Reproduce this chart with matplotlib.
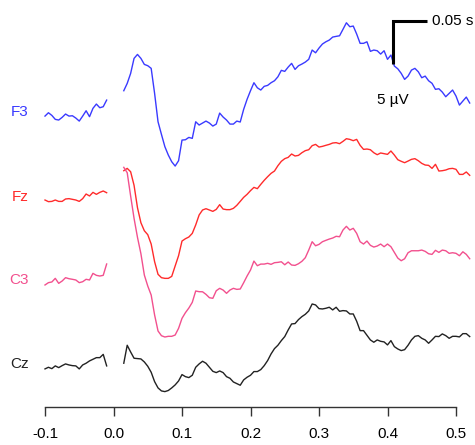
import numpy as np
import matplotlib
matplotlib.use("Agg")
import matplotlib.pyplot as plt

plt.rcParams['font.family'] = ['Liberation Sans', 'DejaVu Sans']
plt.rcParams['axes.unicode_minus'] = False

# time grids (s): pre-stimulus and post-stimulus segments
t_pre = np.linspace(-0.100, -0.010, 19)
t_post = np.linspace(0.015, 0.520, 102)

channels = ["F3", "Fz", "C3", "Cz"]
colors = ["#3a3aff", "#ff2b2b", "#f2508e", "#222222"]

# amplitudes in uV
f3_pre = [-0.12, 0.27, -0.04, -0.50, -0.58, -0.27, 0.12, -0.12, -0.08, -0.35,
          -0.70, -0.12, 0.50, -0.19, 0.78, 1.28, 0.85, 0.97, 1.74]
f3_post = [2.83, 3.68, 4.84, 6.59, 7.05, 6.59, 5.89, 5.74, 5.43, 2.52,
           -0.78, -2.25, -3.68, -4.65, -5.43, -5.93, -5.31, -2.91, -2.87, -2.60,
           -2.71, -0.78, -1.16, -0.93, -0.70, -0.93, -1.28, -1.05, 0.23, -0.23,
           -0.58, -1.05, -1.05, -0.70, -0.81, 0.66, 1.83, 2.83, 3.76, 3.17,
           2.91, 3.34, 3.45, 3.76, 3.99, 4.45, 5.20, 5.08, 5.58, 6.01,
           5.31, 5.73, 5.93, 6.16, 6.48, 7.56, 7.24, 7.79, 8.26, 8.52,
           8.72, 9.07, 9.15, 9.22, 9.97, 10.73, 10.27, 10.35, 9.42, 8.34,
           8.34, 8.52, 7.41, 7.56, 7.48, 7.09, 7.48, 6.48, 6.98, 5.70,
           5.38, 4.85, 4.15, 4.53, 5.23, 5.43, 5.03, 4.34, 4.53, 3.99,
           3.69, 2.99, 3.06, 2.67, 2.13, 2.52, 2.91, 2.21, 1.16, 1.63,
           2.09, 1.40]

fz_pre = [0.00, -0.19, -0.16, 0.00, -0.16, -0.16, 0.12, 0.16, 0.08, 0.00,
          -0.16, 0.16, 0.70, 0.47, 0.89, 0.66, 0.89, 1.05, 0.85]
fz_post = [3.41, 3.68, 3.29, 1.71, -0.89, -2.64, -3.57, -4.03, -5.12, -7.17,
           -8.64, -9.03, -9.11, -9.11, -8.88, -7.67, -6.47, -4.77, -4.50, -4.30,
           -3.88, -2.90, -1.74, -1.16, -1.01, -1.16, -1.32, -1.09, -0.54, -1.05,
           -1.12, -1.12, -0.97, -0.62, -0.16, 0.31, 0.66, 1.09, 1.47, 1.32,
           1.82, 2.29, 2.71, 3.10, 3.37, 3.99, 4.50, 4.81, 4.96, 5.35,
           5.12, 5.19, 5.50, 5.74, 5.85, 6.32, 6.47, 6.16, 6.24, 6.36,
           6.47, 6.63, 6.67, 6.55, 6.82, 7.13, 7.05, 6.90, 7.05, 6.36,
           5.89, 5.93, 5.85, 5.50, 5.27, 5.47, 5.39, 5.31, 5.70, 5.23,
           4.69, 4.50, 4.34, 4.53, 4.73, 4.81, 4.57, 4.26, 4.07, 4.03,
           3.68, 4.15, 3.37, 3.41, 3.49, 3.64, 3.68, 3.57, 2.98, 2.98,
           3.26, 2.87]

c3_pre = [-0.19, 0.08, 0.16, 0.58, 0.00, 0.27, 0.66, 0.54, 0.47, 0.39,
          0.08, 0.19, 0.47, 0.39, 1.16, 0.93, 0.85, 0.93, 2.25]
c3_post = [13.49, 12.87, 10.16, 7.56, 5.35, 3.45, 0.97, -0.31, -1.36, -3.68,
           -5.54, -6.09, -6.24, -6.16, -6.16, -6.01, -5.23, -4.07, -3.41, -2.87,
           -2.21, -0.89, -0.97, -0.98, -1.28, -1.67, -1.74, -0.86, -0.58, -0.78,
           -1.16, -0.78, -0.58, -0.70, -0.66, 0.07, 0.85, 1.55, 2.59, 2.05,
           2.24, 2.24, 2.33, 2.21, 2.40, 2.44, 2.51, 2.16, 2.48, 2.13,
           2.09, 2.28, 2.56, 2.98, 3.87, 4.84, 4.37, 4.53, 4.84, 5.00,
           5.15, 5.27, 5.47, 5.42, 6.20, 6.63, 6.20, 6.40, 5.81, 4.84,
           4.57, 4.92, 4.42, 4.22, 4.34, 4.57, 4.26, 4.57, 4.26, 3.60,
           2.94, 2.63, 2.86, 3.56, 3.79, 3.79, 3.79, 3.87, 3.72, 3.44,
           3.37, 3.84, 3.60, 3.87, 3.79, 3.49, 3.56, 3.49, 3.21, 3.67,
           3.37, 2.86]

cz_pre = [-0.19, 0.00, -0.16, 0.16, -0.04, 0.19, 0.39, 0.27, 0.19, 0.16,
          -0.19, 0.27, 0.47, 0.74, 0.93, 1.12, 1.12, 1.50, 0.16]
cz_post = [0.47, 2.56, 1.78, 1.05, 1.01, 0.97, 0.62, 0.12, -0.58, -1.67,
           -2.40, -2.75, -2.83, -2.70, -2.40, -2.05, -1.59, -0.85, -1.09, -1.20,
           -0.93, 0.00, 0.39, 0.70, 0.47, 0.00, -0.47, -0.62, -0.43, -0.62,
           -1.09, -1.28, -1.71, -1.90, -2.09, -1.47, -1.16, -0.93, -0.50, -0.50,
           -0.27, 0.19, 0.78, 1.55, 2.17, 2.56, 3.10, 3.57, 4.34, 5.04,
           5.08, 5.54, 5.89, 6.16, 6.55, 7.36, 7.25, 6.82, 6.78, 6.86,
           6.98, 6.67, 6.98, 6.51, 6.59, 6.55, 6.20, 6.20, 5.35, 4.26,
           4.26, 3.72, 3.18, 2.91, 3.18, 3.02, 2.95, 2.60, 3.10, 2.40,
           2.13, 1.94, 2.05, 2.56, 3.18, 3.60, 3.68, 3.37, 3.18, 2.79,
           3.18, 3.60, 3.57, 3.88, 3.68, 3.37, 3.60, 3.60, 3.53, 3.91,
           3.91, 3.57]

pre = [f3_pre, fz_pre, c3_pre, cz_pre]
post = [f3_post, fz_post, c3_post, cz_post]

# vertical offset of each channel (uV)
offsets = [33.95, 24.07, 14.38, 4.62]

xticks = [-0.1, 0.0, 0.1, 0.2, 0.3, 0.4, 0.5]
xticklabels = ["-0.1", "0.0", "0.1", "0.2", "0.3", "0.4", "0.5"]

fig = plt.figure(figsize=(4.75, 4.45), dpi=100)
ax = fig.add_axes([0.08753, 0.08539, 0.90853, 0.91461])

for name, col, yp, yq, off in zip(channels, colors, pre, post, offsets):
    ax.plot(t_pre, np.array(yp) + off, color=col, lw=1.0,
            solid_joinstyle='round')
    ax.plot(t_post, np.array(yq) + off, color=col, lw=1.0,
            solid_joinstyle='round')
    ax.text(-0.124, off + 0.35, name, color=col, fontsize=11,
            ha='right', va='center')

# scale bar: 0.05 s, 5 uV
sx, sy = 0.4073, 39.88
ax.plot([sx, sx, sx + 0.05], [sy, sy + 5, sy + 5], color='black', lw=2.2,
        solid_capstyle='butt', solid_joinstyle='miter')
ax.text(sx + 0.057, sy + 5, "0.05 s", fontsize=11, ha='left', va='center')
ax.text(sx, 35.7, "5 \u00b5V", fontsize=11, ha='center', va='center')

ax.set_xlim(-0.105, 0.525)
ax.set_ylim(0, 47.33)
ax.set_xticks(xticks)
ax.set_xticklabels(xticklabels, fontsize=11)
ax.set_yticks([])
for s in ['top', 'right', 'left']:
    ax.spines[s].set_visible(False)
ax.spines['bottom'].set_bounds(-0.1, 0.5)
ax.spines['bottom'].set_linewidth(1.0)
ax.spines['bottom'].set_color('#333333')
ax.tick_params(axis='x', length=6.5, width=1.0, color='#333333', pad=8)

fig.savefig("out.png", dpi=100)
